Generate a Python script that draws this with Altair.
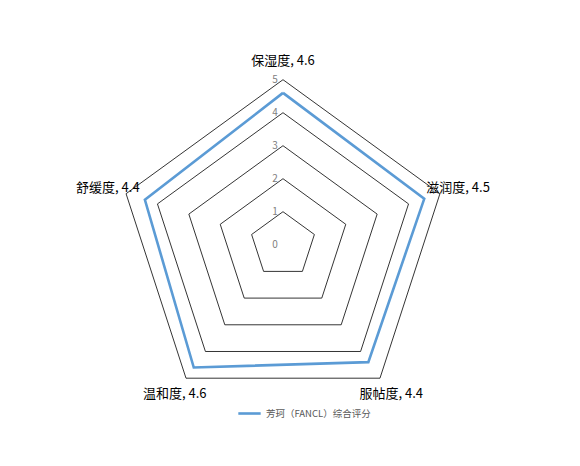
import math
import altair as alt
import pandas as pd

categories = ["保湿度", "滋润度", "服帖度", "温和度", "舒缓度"]
scores = [4.6, 4.5, 4.4, 4.6, 4.4]
series_name = "芳珂（FANCL）综合评分"
levels = [1, 2, 3, 4, 5]
tick_labels = [0, 1, 2, 3, 4, 5]

n = len(categories)
ang = [2 * math.pi * i / n for i in range(n)]

# grid rings
grid_rows = []
for lv in levels:
    for k in range(n + 1):
        a = ang[k % n]
        grid_rows.append({"level": lv, "ord": k, "x": lv * math.sin(a), "y": lv * math.cos(a)})
grid_df = pd.DataFrame(grid_rows)

# series
ser_rows = []
for k in range(n + 1):
    a = ang[k % n]
    v = scores[k % n]
    ser_rows.append({"series": series_name, "ord": k, "x": v * math.sin(a), "y": v * math.cos(a)})
ser_df = pd.DataFrame(ser_rows)

# category labels
LABEL_R = 5.58
lab_df = pd.DataFrame({
    "label": [f"{c}, {v}" for c, v in zip(categories, scores)],
    "x": [LABEL_R * math.sin(a) for a in ang],
    "y": [LABEL_R * math.cos(a) for a in ang],
})

tick_df = pd.DataFrame({"t": [str(t) for t in tick_labels], "x": [0.0] * len(tick_labels), "y": tick_labels})

xs = alt.Scale(domain=[-8.3333, 8.7576], nice=False, zero=False)
ys = alt.Scale(domain=[-6.4636, 7.1727], nice=False, zero=False)

def X():
    return alt.X("x:Q", scale=xs, axis=None)

def Y():
    return alt.Y("y:Q", scale=ys, axis=None)

grid = alt.Chart(grid_df).mark_line(color="#000000", strokeWidth=0.8).encode(
    x=X(), y=Y(), detail="level:N", order="ord:Q"
)

series = alt.Chart(ser_df).mark_line(strokeWidth=2.6).encode(
    x=X(), y=Y(), order="ord:Q",
    color=alt.Color(
        "series:N",
        scale=alt.Scale(domain=[series_name], range=["#5B9BD5"]),
        legend=alt.Legend(
            title=None, orient="none", legendX=229, legendY=393,
            symbolType="stroke", symbolStrokeWidth=2.6, symbolSize=500,
            labelFontSize=9.5, labelColor="#595959", labelFont="Noto Sans CJK SC",
        ),
    ),
)

ticks = alt.Chart(tick_df).mark_text(
    fontSize=10, color="#808080", dx=-8, font="Noto Sans CJK SC", align="center", baseline="middle"
).encode(x=X(), y=Y(), text="t:N")

labels = alt.Chart(lab_df).mark_text(
    fontSize=13, color="#000000", font="Noto Sans CJK SC", align="center", baseline="middle"
).encode(x=X(), y=Y(), text="label:N")

chart = alt.layer(grid, series, ticks, labels).properties(
    width=564, height=450, padding=0, background="#ffffff"
).configure_view(stroke=None)

chart.save("out.html", embed_options={"renderer": "svg", "actions": False})
